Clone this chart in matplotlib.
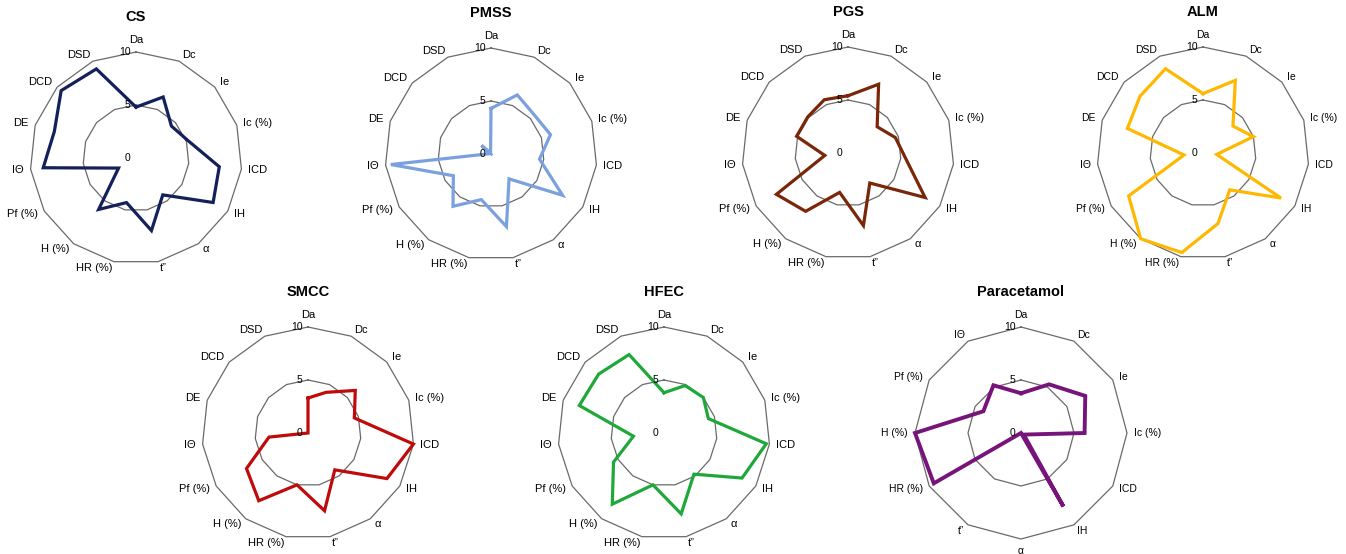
import numpy as np
import matplotlib
matplotlib.use("Agg")
import matplotlib.pyplot as plt

# axis names (15 criteria, paracetamol uses only 12)
labels15 = ["Da", "Dc", "Ie", "Ic (%)", "ICD", "IH", "α", "t”", "HR (%)",
            "H (%)", "Pf (%)", "IΘ", "DE", "DCD", "DSD"]
labels12 = ["Da", "Dc", "Ie", "Ic (%)", "ICD", "IH", "α", "t”", "HR (%)",
            "H (%)", "Pf (%)", "IΘ"]

cs = [4.8, 6.3, 4.5, 5.2, 7.9, 8.4, 4.3, 7.0, 4.3, 6.0, 1.9, 8.8, 8.1, 9.5, 9.2]
pmss = [4.3, 6.1, 5.5, 5.9, 4.6, 7.8, 2.9, 7.0, 4.4, 6.1, 4.1, 9.5, 0.1, 1.2, 0.1]
pgs = [5.4, 7.1, 3.7, 4.7, 5.5, 8.4, 3.5, 7.0, 3.8, 6.8, 7.8, 2.2, 5.1, 5.1, 5.5]
alm = [5.6, 7.5, 3.8, 5.0, 1.3, 8.5, 4.3, 6.8, 9.6, 10.0, 8.1, 1.8, 7.5, 8.0, 8.7]
smcc = [3.3, 4.2, 6.0, 4.6, 10.0, 8.6, 4.3, 7.5, 5.0, 7.9, 6.7, 3.7, 0.0, 0.0, 0.0]
hfec = [3.8, 4.9, 5.0, 4.4, 9.7, 8.5, 4.8, 7.8, 5.0, 8.3, 5.5, 2.9, 8.4, 8.3, 8.1]
paracetamol = [3.75, 5.3, 7.0, 6.0, 0.3, 8.0, 0.0, 0.0, 9.5, 10.0, 4.1, 5.2]

rings = [5, 10]
ring_ticks = [0, 5, 10]

plt.rcParams['font.family'] = ['Liberation Sans', 'DejaVu Sans']

W, H = 1346, 554
fig = plt.figure(figsize=(W / 100, H / 100), dpi=100)
R = 106
GRID = "#6a6a6a"


def radar(cx, cy, title, labels, values, color, lw=2.3, fs=8):
    ax = fig.add_axes([(cx - R) / W, (H - cy - R) / H, 2 * R / W, 2 * R / H],
                      projection="polar")
    ax.set_theta_offset(np.pi / 2)
    ax.set_theta_direction(-1)
    ax.set_ylim(0, 10)
    ax.set_xticks([])
    ax.set_yticks([])
    ax.grid(False)
    ax.spines["polar"].set_visible(False)

    n = len(labels)
    theta = np.linspace(0, 2 * np.pi, n, endpoint=False)
    tt = np.append(theta, theta[0])

    # polygon grid
    for r in rings:
        ax.plot(tt, [r] * (n + 1), color=GRID, lw=0.9, clip_on=False)

    vals = np.append(values, values[0])
    ax.plot(tt, vals, color=color, lw=lw, solid_joinstyle="miter",
            clip_on=False, zorder=3)

    # category labels around the outside
    for t, lab in zip(theta, labels):
        s, c = np.sin(t), np.cos(t)
        ha = "left" if s > 0.05 else ("right" if s < -0.05 else "center")
        va = "bottom" if c > 0.99 else ("top" if c < -0.99 else "center")
        ax.annotate(lab, xy=(t, 10), xytext=(5 * s, 5 * c),
                    textcoords="offset points", ha=ha, va=va, fontsize=fs,
                    annotation_clip=False)

    for v in ring_ticks:
        ax.annotate(str(v), xy=(0, v), xytext=(-4, 0), textcoords="offset points",
                    ha="right", va="center", fontsize=7.5, annotation_clip=False)

    ax.text(0.5, 1.165, title, transform=ax.transAxes, ha="center", va="center",
            fontsize=10.5, fontweight="bold")


radar(136, 158, "CS", labels15, cs, "#14205a")
radar(491, 154, "PMSS", labels15, pmss, "#7ba0de")
radar(848, 153, "PGS", labels15, pgs, "#7a2608")
radar(1203, 153, "ALM", labels15, alm, "#ffb800", fs=7.5)
radar(308, 433, "SMCC", labels15, smcc, "#c00a0a")
radar(664, 433, "HFEC", labels15, hfec, "#1fa83a")
radar(1021, 433, "Paracetamol", labels12, paracetamol, "#76147c", lw=2.8, fs=7.5)

fig.savefig("out.png", dpi=100, facecolor="white")
